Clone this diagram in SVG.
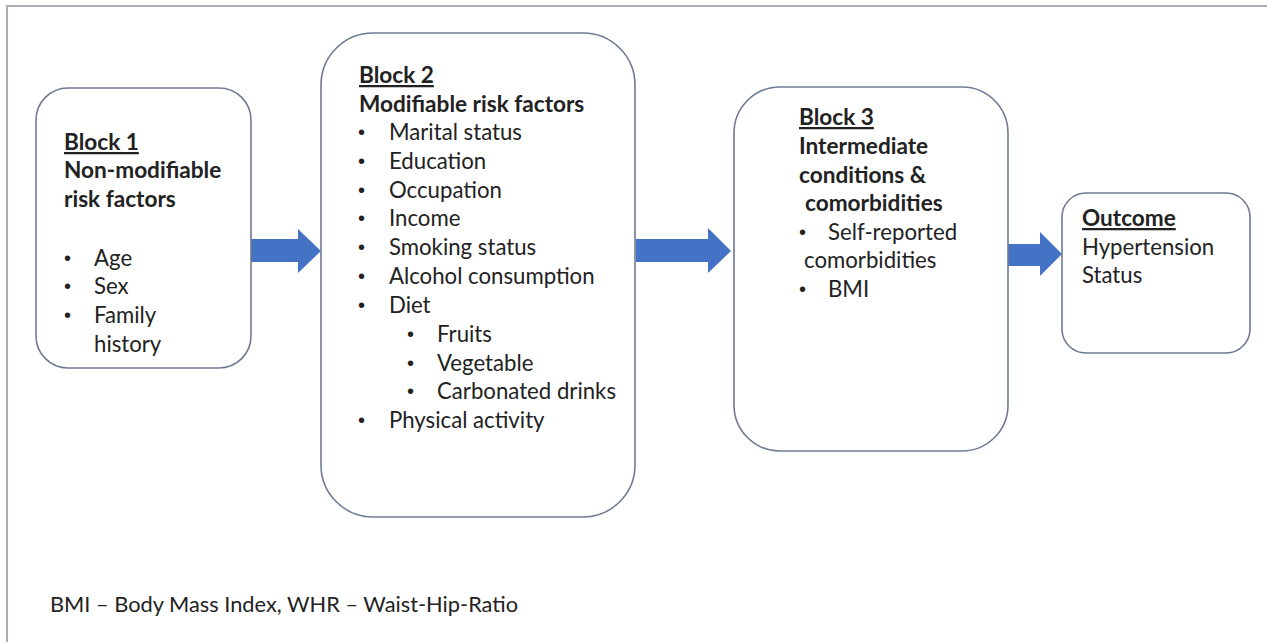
<svg xmlns="http://www.w3.org/2000/svg" width="1267" height="642" viewBox="0 0 1267 642">
<style>
.box{fill:#fff;stroke:#6f7b92;stroke-width:1.6}
.t{font-family:Lato,"Liberation Sans",sans-serif;font-size:22.2px;fill:#222}
.b{font-weight:bold;font-size:22.6px}
.u{text-decoration:underline}
.d{font-family:"Liberation Sans",sans-serif;font-size:20px;fill:#222}
.arr{fill:#4472c4}
</style>
<rect width="1267" height="642" fill="#fff"/>
<path d="M7 642 V6 H1267" fill="none" stroke="#a9adb8" stroke-width="2"/>
<g id="connectors">
<path class="arr" d="M251 239 H298 V229 L321 251 L298 273 V262 H251 Z"/>
<path class="arr" d="M636 239 H708 V228 L731 251 L708 273 V262 H636 Z"/>
<path class="arr" d="M1008 244 H1040 V232 L1062 254 L1040 276 V266 H1008 Z"/>
</g>
<g id="block1">
<rect class="box" x="36" y="88" width="215" height="280" rx="32"/>
<text class="t b u" x="64" y="150">Block 1</text>
<text class="t b" x="64" y="178">Non-modifiable</text>
<text class="t b" x="64" y="207">risk factors</text>
<text class="d" x="64" y="265">•</text><text class="t" x="94" y="266">Age</text>
<text class="d" x="64" y="293">•</text><text class="t" x="94" y="294">Sex</text>
<text class="d" x="64" y="322">•</text><text class="t" x="94" y="323">Family</text>
<text class="t" x="94" y="352">history</text>
</g>
<g id="block2">
<rect class="box" x="321" y="33" width="314" height="484" rx="52"/>
<text class="t b u" x="359" y="83">Block 2</text>
<text class="t b" x="359" y="112">Modifiable risk factors</text>
<g class="d">
<text x="358" y="139">•</text>
<text x="358" y="168">•</text>
<text x="358" y="197">•</text>
<text x="358" y="225">•</text>
<text x="358" y="254">•</text>
<text x="358" y="283">•</text>
<text x="358" y="312">•</text>
<text x="407" y="341">•</text>
<text x="407" y="370">•</text>
<text x="407" y="398">•</text>
<text x="358" y="427">•</text>
</g>
<g class="t">
<text x="389" y="140">Marital status</text>
<text x="389" y="169">Education</text>
<text x="389" y="198">Occupation</text>
<text x="389" y="226">Income</text>
<text x="389" y="255">Smoking status</text>
<text x="389" y="284">Alcohol consumption</text>
<text x="389" y="313">Diet</text>
<text x="437" y="342">Fruits</text>
<text x="437" y="371">Vegetable</text>
<text x="437" y="399">Carbonated drinks</text>
<text x="389" y="428">Physical activity</text>
</g>
</g>
<g id="block3">
<rect class="box" x="734" y="87" width="274" height="364" rx="46"/>
<text class="t b u" x="799" y="125">Block 3</text>
<text class="t b" x="799" y="154">Intermediate</text>
<text class="t b" x="799" y="183">conditions &amp;</text>
<text class="t b" x="805" y="211">comorbidities</text>
<text class="d" x="799" y="239">•</text><text class="t" x="828" y="240">Self-reported</text>
<text class="t" x="804" y="268">comorbidities</text>
<text class="d" x="799" y="296">•</text><text class="t" x="828" y="297">BMI</text>
</g>
<g id="outcome">
<rect class="box" x="1062" y="193" width="188" height="160" rx="24"/>
<text class="t b u" x="1082" y="226">Outcome</text>
<text class="t" x="1082" y="255">Hypertension</text>
<text class="t" x="1082" y="283">Status</text>
</g>
<text class="t" x="50" y="612" style="font-size:21.8px">BMI – Body Mass Index, WHR – Waist-Hip-Ratio</text>
</svg>
